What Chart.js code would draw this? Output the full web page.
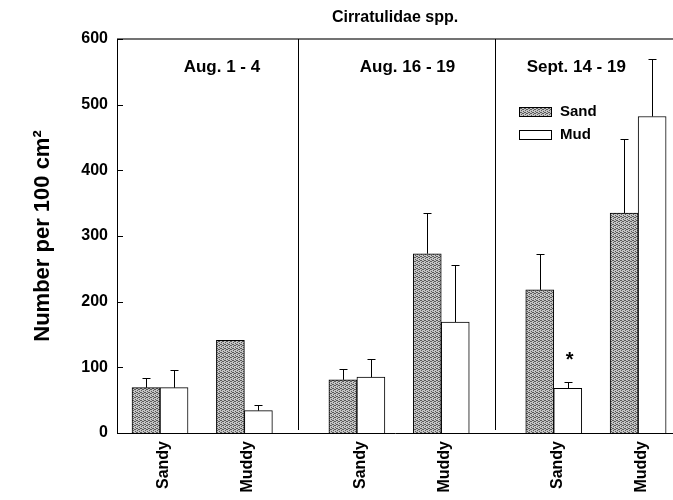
<!DOCTYPE html>
<html>
<head>
<meta charset="utf-8">
<script src="https://cdn.jsdelivr.net/npm/chart.js"></script>
<style>
  body { margin: 0; background: #fff; }
  canvas { display: block; }
</style>
</head>
<body>
<canvas id="cirratulidChart" width="673" height="500"></canvas>
<script>
var chartTitle = 'Cirratulidae spp.';
var periods = ['Aug. 1 - 4', 'Aug. 16 - 19', 'Sept. 14 - 19'];
var sites = ['Sandy', 'Muddy'];
var seriesNames = ['Sand', 'Mud'];
// one value per site, in order: period 1 Sandy, period 1 Muddy, period 2 Sandy, ...
var sandMeans = [69, 141, 81, 273, 218, 335];
var sandErrors = [14, 0, 16, 62, 54, 112];
var mudMeans = [69, 34, 85, 169, 68, 482];
var mudErrors = [27, 8, 28, 87, 10, 88];
var mudMarks = ['', '', '', '', '*', ''];
var yTicks = [0, 100, 200, 300, 400, 500, 600];
var yTitle = 'Number per 100 cm\u00B2';

var FONT = '"Liberation Sans", Arial, sans-serif';

// x position of a site: periods 7 units apart, sites 3 units apart
function siteX(i) {
    return Math.floor(i / sites.length) * 7 + (i % sites.length) * 3;
}

function points(values) {
    return values.map(function(v, i) { return { x: siteX(i), y: v }; });
}

var canvas = document.getElementById('cirratulidChart');
var ctx = canvas.getContext('2d');

// dotted grey fill like the printed figure
function stipple() {
    var c = document.createElement('canvas');
    c.width = 4; c.height = 4;
    var p = c.getContext('2d');
    p.fillStyle = '#c4c4c4';
    p.fillRect(0, 0, 4, 4);
    p.fillStyle = '#5a5a5a';
    [[0, 0], [2, 1], [1, 2], [3, 3], [3, 1], [1, 0]].forEach(function(d) { p.fillRect(d[0], d[1], 1, 1); });
    return ctx.createPattern(c, 'repeat');
}
var sandFill = stipple();

var errors = [sandErrors, mudErrors];
var means = [sandMeans, mudMeans];

var extras = {
    id: 'extras',
    afterDatasetsDraw: function(chart) {
        var c = chart.ctx;
        var ca = chart.chartArea;
        var xs = chart.scales.x;
        var ys = chart.scales.y;
        c.save();

        // title over the plot area
        c.fillStyle = '#000';
        c.font = 'bold 16px ' + FONT;
        c.textAlign = 'center';
        c.textBaseline = 'middle';
        c.fillText(chartTitle, (ca.left + ca.right) / 2, 18);

        // top frame line
        c.strokeStyle = '#444';
        c.lineWidth = 1.5;
        c.beginPath();
        c.moveTo(ca.left, ca.top);
        c.lineTo(ca.right, ca.top);
        c.stroke();

        // inward y ticks
        c.strokeStyle = '#000';
        c.lineWidth = 1;
        yTicks.forEach(function(v) {
            var py = Math.round(ys.getPixelForValue(v)) + 0.5;
            c.beginPath();
            c.moveTo(ca.left, py);
            c.lineTo(ca.left + 6, py);
            c.stroke();
        });

        // period dividers
        for (var g = 1; g < periods.length; g++) {
            var px = Math.round(xs.getPixelForValue(g * 7 - 2.1)) + 0.5;
            c.beginPath();
            c.moveTo(px, ca.top);
            c.lineTo(px, ca.bottom - 3);
            c.stroke();
        }

        // period labels
        var labelShift = [2.2, 1.8, 0.8];
        c.font = 'bold 17px ' + FONT;
        periods.forEach(function(name, g) {
            c.fillText(name, xs.getPixelForValue(g * 7 + labelShift[g]), ca.top + 28);
        });

        // error bars (upper only)
        for (var d = 0; d < 2; d++) {
            var meta = chart.getDatasetMeta(d);
            meta.data.forEach(function(bar, i) {
                var se = errors[d][i];
                if (!se) return;
                var top = Math.round(ys.getPixelForValue(means[d][i] + se)) + 0.5;
                var bx = Math.round(bar.x) + 0.5;
                c.beginPath();
                c.moveTo(bx, bar.y);
                c.lineTo(bx, top);
                c.moveTo(bx - 4, top);
                c.lineTo(bx + 4, top);
                c.stroke();
            });
        }

        // significance marks
        c.font = 'bold 20px ' + FONT;
        c.textBaseline = 'alphabetic';
        chart.getDatasetMeta(1).data.forEach(function(bar, i) {
            if (!mudMarks[i]) return;
            var top = ys.getPixelForValue(mudMeans[i] + mudErrors[i]);
            c.fillText(mudMarks[i], bar.x + 2, top - 16);
        });

        // legend
        var lx = ca.right - 154;
        var ly = ca.top + 68;
        var fills = [sandFill, '#fff'];
        c.font = 'bold 15px ' + FONT;
        c.textAlign = 'left';
        c.textBaseline = 'middle';
        seriesNames.forEach(function(name, k) {
            var y0 = ly + k * 23;
            c.fillStyle = fills[k];
            c.fillRect(lx, y0, 32, 9);
            c.strokeStyle = '#000';
            c.strokeRect(lx + 0.5, y0 + 0.5, 32, 9);
            c.fillStyle = '#000';
            c.fillText(name, lx + 41, y0 + 5);
        });

        c.restore();
    }
};

var data = {
    datasets: [{
        label: seriesNames[0],
        data: points(sandMeans),
        backgroundColor: sandFill,
        borderColor: '#000',
        borderWidth: 1
    },
    {
        label: seriesNames[1],
        data: points(mudMeans),
        backgroundColor: '#fff',
        borderColor: '#000',
        borderWidth: 1
    }]
};

var options = {
    responsive: false,
    animation: false,
    layout: { padding: { top: 39, right: 0, left: 0, bottom: 0 } },
    datasets: { bar: { barThickness: 28, grouped: true } },
    plugins: {
        legend: { display: false },
        title: { display: false },
        tooltip: { enabled: false }
    },
    scales: {
        x: {
            type: 'linear',
            offset: false,
            min: -1.53,
            max: 18.24,
            grid: { display: false, drawTicks: false, offset: false },
            border: { display: true, color: '#000', width: 1 },
            afterBuildTicks: function(axis) {
                axis.ticks = sandMeans.map(function(v, i) { return { value: siteX(i) + 0.12 }; });
            },
            afterFit: function(axis) { axis.height = 67; },
            ticks: {
                autoSkip: false,
                maxRotation: 90,
                minRotation: 90,
                padding: 8,
                color: '#000',
                font: { family: FONT, size: 16, weight: 'bold' },
                callback: function(value, index) { return sites[index % sites.length]; }
            }
        },
        y: {
            min: 0,
            max: 600,
            grid: { display: false, drawTicks: false },
            border: { display: true, color: '#000', width: 1 },
            afterBuildTicks: function(axis) {
                axis.ticks = yTicks.map(function(v) { return { value: v }; });
            },
            afterFit: function(axis) { axis.width = 117; },
            ticks: {
                padding: 9,
                color: '#000',
                font: { family: FONT, size: 16, weight: 'bold' }
            },
            title: {
                display: true,
                text: yTitle,
                color: '#000',
                padding: { top: 30, bottom: 0 },
                font: { family: FONT, size: 22, weight: 'bold' }
            }
        }
    }
};

var cirratulidChart = new Chart(ctx, {
    type: 'bar',
    data: data,
    options: options,
    plugins: [extras]
});
</script>
</body>
</html>
